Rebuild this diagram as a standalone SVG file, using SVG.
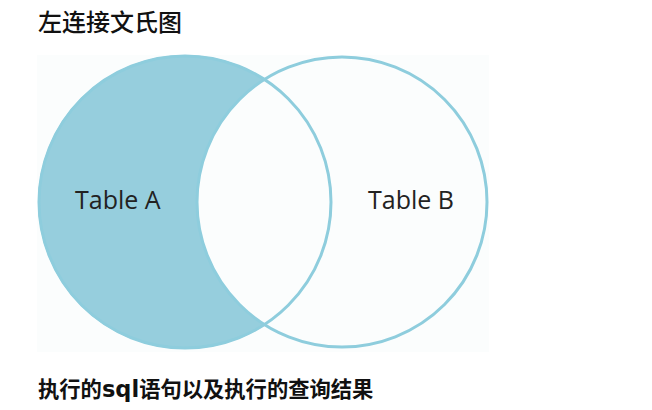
<svg xmlns="http://www.w3.org/2000/svg" width="652" height="410" viewBox="0 0 652 410">
<style>
.cjk{font-family:"Noto Sans CJK SC","Noto Sans",sans-serif;fill:#111}
.lbl{font-family:"Open Sans","Liberation Sans",sans-serif;font-size:25px;fill:#222}
.ring{stroke:#8ECDDD;stroke-width:3}
</style>
<rect width="652" height="410" fill="#ffffff"/>
<text class="cjk" x="38" y="31" font-size="24" font-weight="500">左连接文氏图</text>
<rect x="37" y="55" width="452" height="297" fill="#FBFDFD"/>
<g id="tableA">
<circle cx="185" cy="202" r="147" fill="#96CEDD"/>
</g>
<g id="tableB">
<circle class="ring" cx="342" cy="202" r="145" fill="#FBFDFD"/>
</g>
<circle class="ring" cx="185" cy="202" r="146" fill="none"/>
<text class="lbl" x="75" y="209">Table A</text>
<text class="lbl" x="368" y="209">Table B</text>
<text class="cjk" x="38" y="397" font-size="21.3" font-weight="bold" fill="#333">执行的<tspan font-family="DejaVu Sans,sans-serif" font-size="22.5">sql</tspan>语句以及执行的查询结果</text>
</svg>
